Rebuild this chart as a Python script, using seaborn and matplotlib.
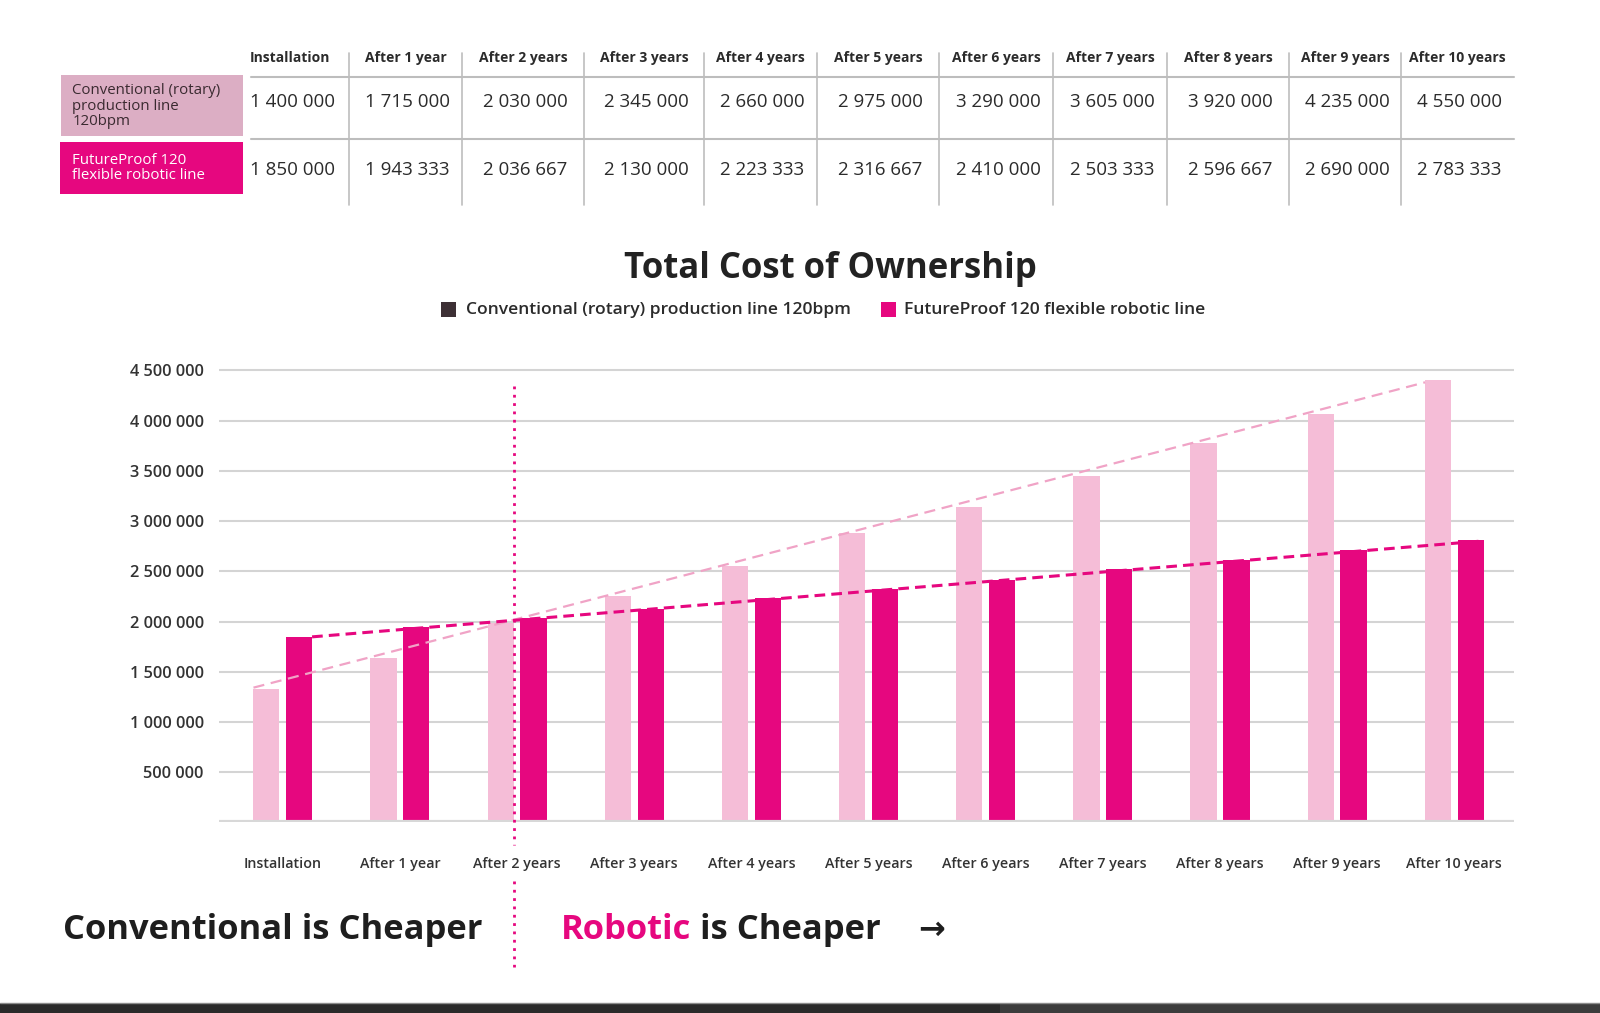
import numpy as np
import pandas as pd
import matplotlib
matplotlib.use("Agg")
import matplotlib.pyplot as plt
import seaborn as sns
from matplotlib.ticker import FuncFormatter
from matplotlib.patches import Rectangle

# Data
periods = ["Installation", "After 1 year", "After 2 years", "After 3 years", "After 4 years",
           "After 5 years", "After 6 years", "After 7 years", "After 8 years", "After 9 years",
           "After 10 years"]
# values printed in the table
conventional_table = [1400000, 1715000, 2030000, 2345000, 2660000, 2975000,
                      3290000, 3605000, 3920000, 4235000, 4550000]
robotic_table = [1850000, 1943333, 2036667, 2130000, 2223333, 2316667,
                 2410000, 2503333, 2596667, 2690000, 2783333]
# bar heights as drawn in the chart
conventional_bars = [1330000, 1640000, 1990000, 2250000, 2550000, 2880000,
                     3140000, 3450000, 3780000, 4070000, 4400000]
robotic_bars = [1850000, 1950000, 2040000, 2130000, 2230000, 2320000,
                2410000, 2520000, 2610000, 2710000, 2810000]
series_names = ["Conventional (rotary) production line 120bpm", "FutureProof 120 flexible robotic line"]
row_labels = ["Conventional (rotary)\nproduction line\n120bpm", "FutureProof 120\nflexible robotic line"]

# Colours
LIGHT_PINK = "#f5bdd7"
MAGENTA = "#e6077f"
TREND_LIGHT = "#f0a3c6"
CELL_PINK = "#dcaec4"
GRID = "#d4d4d4"

sns.set_theme(style="white")
plt.rcParams["font.family"] = ["Open Sans", "DejaVu Sans"]

fig = plt.figure(figsize=(16, 10.13), dpi=100)

# Chart axes
ax = fig.add_axes([0.1369, 0.18806, 0.8094, 0.4562])
df = pd.DataFrame({
    "period": periods * 2,
    "cost": conventional_bars + robotic_bars,
    "line": [series_names[0]] * len(periods) + [series_names[1]] * len(periods),
})
sns.barplot(data=df, x="period", y="cost", hue="line", order=periods, hue_order=series_names,
            palette=[LIGHT_PINK, MAGENTA], width=0.56, gap=0.2, saturation=1,
            legend=False, ax=ax, zorder=3, linewidth=0)

ax.set_xlim(-0.544, 10.51)
ax.set_ylim(0, 4600000)
ax.set_yticks(np.arange(500000, 4500001, 500000))
ax.yaxis.set_major_formatter(FuncFormatter(lambda v, p: f"{int(v):,}".replace(",", " ")))
ax.yaxis.grid(True, color=GRID, linewidth=1.5, zorder=0)
ax.xaxis.grid(False)
ax.axhline(0, color="#d8d8d8", linewidth=3, zorder=4)
for s in ax.spines.values():
    s.set_visible(False)
ax.set_xlabel("")
ax.set_ylabel("")
ax.tick_params(axis="y", length=0, pad=11, labelsize=11.8, labelcolor="#333333")
ax.tick_params(axis="x", length=0, pad=25, labelsize=10.3, labelcolor="#333333")
for lab in ax.get_yticklabels() + ax.get_xticklabels():
    lab.set_fontweight("semibold")

# Trend lines through bar tops
xs = np.arange(len(periods))
k1, b1 = np.polyfit(xs - 0.25, conventional_bars, 1)
x1 = np.array([-0.25, 9.75])
ax.plot(x1, k1 * x1 + b1, color=TREND_LIGHT, linewidth=1.6, dashes=(5, 3), zorder=5)
k2, b2 = np.polyfit(xs + 0.25, robotic_bars, 1)
x2 = np.array([0.25, 10.25])
ax.plot(x2, k2 * x2 + b2, color=MAGENTA, linewidth=2.2, dashes=(3.5, 2), zorder=5)

# Break-even dotted line
tr = ax.get_xaxis_transform()
ax.plot([1.97, 1.97], [0.9446, -0.0487], transform=tr, color=MAGENTA, linewidth=2,
        linestyle=(0, (1, 2)), clip_on=False, zorder=6)
ax.plot([1.97, 1.97], [-0.1266, -0.3127], transform=tr, color=MAGENTA, linewidth=2,
        linestyle=(0, (1, 2)), clip_on=False, zorder=6)

# Overlay in pixel coordinates for table, title, legend and captions
ov = fig.add_axes([0, 0, 1, 1], zorder=-1)
ov.set_xlim(0, 1600)
ov.set_ylim(1013, 0)
ov.axis("off")

col_edges = [231, 349, 462, 584, 704, 817, 939, 1053, 1167, 1289, 1401, 1514]
centers = [(a + b) / 2 for a, b in zip(col_edges[:-1], col_edges[1:])]
for c, name in zip(centers, periods):
    ov.text(c, 58, name, ha="center", va="center", fontsize=10, fontweight="bold", color="#2b2b2b")
for e in col_edges[1:-1]:
    ov.plot([e, e], [53, 205], color="#bdbdbd", linewidth=1.2)
ov.plot([251, 1514], [76.5, 76.5], color="#bdbdbd", linewidth=1.5)
ov.plot([251, 1514], [139, 139], color="#bdbdbd", linewidth=1.5)

ov.add_patch(Rectangle((61, 74.5), 182, 61, color=CELL_PINK, linewidth=0))
ov.add_patch(Rectangle((60, 141.5), 183, 52.5, color=MAGENTA, linewidth=0))
ov.text(72.5, 106, row_labels[0], ha="left", va="center", fontsize=10.8, color="#3a2a30",
        linespacing=1.05)
ov.text(72.5, 168, row_labels[1], ha="left", va="center", fontsize=10.8, color="white",
        linespacing=1.05)
fmt = lambda v: f"{v:,}".replace(",", " ")
for c, v1, v2 in zip(centers, conventional_table, robotic_table):
    ov.text(c + 2, 102, fmt(v1), ha="center", va="center", fontsize=13.5, color="#2b2b2b")
    ov.text(c + 2, 170, fmt(v2), ha="center", va="center", fontsize=13.5, color="#2b2b2b")

ov.text(830, 269, "Total Cost of Ownership", ha="center", va="center", fontsize=25,
        fontweight="bold", color="#222222")

ov.add_patch(Rectangle((441, 302), 15, 15, color="#3d3035", linewidth=0))
ov.text(466, 309.5, series_names[0], ha="left", va="center", fontsize=12.6,
        fontweight="semibold", color="#2b2b2b")
ov.add_patch(Rectangle((881, 302), 15, 15, color=MAGENTA, linewidth=0))
ov.text(904, 309.5, series_names[1], ha="left", va="center", fontsize=12.6,
        fontweight="semibold", color="#2b2b2b")

ov.text(63, 930, "Conventional is Cheaper", ha="left", va="center", fontsize=24.8,
        fontweight="bold", color="#1e1e1e")
t = ov.text(561, 930, "Robotic", ha="left", va="center", fontsize=24.8,
            fontweight="bold", color=MAGENTA)
ov.annotate(" is Cheaper", xycoords=t, xy=(1, 0.5), ha="left", va="center", fontsize=24.8,
            fontweight="bold", color="#1e1e1e")
ov.text(918, 930, "\u2192", ha="left", va="center", fontsize=23, fontweight="bold",
        color="#1e1e1e", family=["DejaVu Sans"])

# Dark strip at the bottom edge
ov.add_patch(Rectangle((0, 1003), 1600, 10, color="#2a2a2a", linewidth=0, clip_on=False))
ov.add_patch(Rectangle((1000, 1004), 600, 9, color="#3c3c3c", linewidth=0, clip_on=False))
ov.plot([0, 1600], [1003, 1003], color="#8c8c8c", linewidth=1, clip_on=False)

fig.savefig("out.png", dpi=100)
